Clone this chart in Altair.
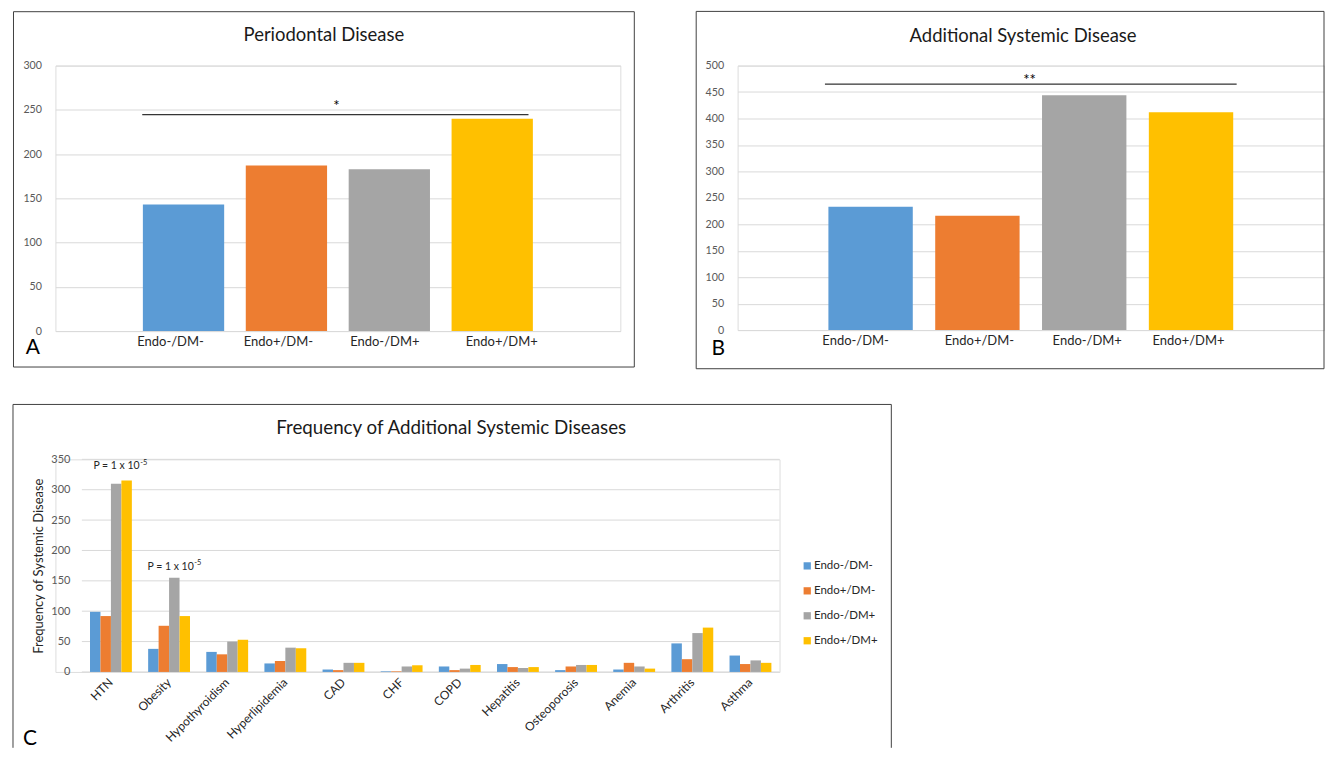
import altair as alt
import pandas as pd

# ---------------- data ----------------
groups = ["Endo-/DM-", "Endo+/DM-", "Endo-/DM+", "Endo+/DM+"]
colors = ["#5B9BD5", "#ED7D31", "#A5A5A5", "#FFC000"]

perio_values = [143, 187, 183, 240]
perio_sig_level = 244.5
perio_star_level = 254

systemic_values = [233, 216, 444, 412]
systemic_sig_level = 465
systemic_star_level = 472

diseases = ["HTN", "Obesity", "Hypothyroidism", "Hyperlipidemia", "CAD", "CHF",
            "COPD", "Hepatitis", "Osteoporosis", "Anemia", "Arthritis", "Asthma"]
endo_neg_dm_neg = [99, 38, 33, 14, 4, 1, 9, 13, 3, 4, 47, 27]
endo_pos_dm_neg = [92, 76, 29, 18, 3, 1, 3, 8, 9, 15, 21, 13]
endo_neg_dm_pos = [310, 155, 50, 40, 15, 9, 5.5, 6.5, 11.5, 9, 64, 19]
endo_pos_dm_pos = [315, 92, 53, 39, 15, 11, 11.5, 8, 11.5, 5.5, 73, 15]
c_ticks = [0, 50, 100, 150, 200, 250, 300, 350]

p_labels = ["HTN", "Obesity"]
p_levels = [338.5, 172.8]
p_text = "P = 1 x 10"
p_sup = "-5"

FONT = "Lato"
GRID = "#D9D9D9"
BOX = "#404040"
LBL = "#595959"
TXT = "#262626"

color_scale = alt.Scale(domain=groups, range=colors)


def dummy():
    return pd.DataFrame({"k": [0]})


def rule(x1, x2, y1, y2, opacity=1.0):
    return alt.Chart(dummy()).mark_rule(color=BOX, strokeWidth=1, opacity=opacity).encode(
        x=alt.value(x1), x2=alt.value(x2), y=alt.value(y1), y2=alt.value(y2))


def box_layers(x1, x2, y1, y2, top_pad):
    box = alt.Chart(dummy()).mark_rect(fill="transparent", stroke=BOX, strokeWidth=1).encode(
        x=alt.value(x1), x2=alt.value(x2), y=alt.value(y1), y2=alt.value(y2))
    pad = rule(0, 5, top_pad, top_pad, opacity=0)
    return [box, pad]


def text_layer(txt, x, y, size, color=TXT, align="center", baseline="alphabetic"):
    return alt.Chart(dummy()).mark_text(text=txt, fontSize=size, color=color, align=align,
                                        baseline=baseline, font=FONT).encode(
        x=alt.value(x), y=alt.value(y))


def label_shift(offsets):
    conds = [{"test": "datum.value === '%s'" % g, "value": o} for g, o in zip(groups, offsets)]
    return {"condition": conds, "value": 0}


def bar_panel(values, ymax, ystep, w, h, title, title_x, title_y, letter, letter_x, letter_y,
              sig_level, sig_x1, sig_x2, stars, star_x, star_level, box, top_pad, lab_off):
    df = pd.DataFrame({"group": groups, "value": values})
    x_enc = alt.X("group:N", sort=groups,
                  scale=alt.Scale(paddingInner=0.21, paddingOuter=0.85),
                  axis=alt.Axis(title=None, labelAngle=0, domain=False, ticks=False,
                                labelFontSize=13, labelColor=TXT, labelPadding=4, labelFont=FONT,
                                labelOffset=label_shift(lab_off)))
    y_enc = alt.Y("value:Q", scale=alt.Scale(domain=[0, ymax], nice=False),
                  axis=alt.Axis(title=None, values=list(range(0, ymax + 1, ystep)), domain=False,
                                ticks=False, gridColor=GRID, gridWidth=1, labelPadding=14,
                                labelFontSize=10.7, labelColor=LBL, labelFont=FONT))
    bars = alt.Chart(df).mark_bar().encode(
        x=x_enc, y=y_enc,
        color=alt.Color("group:N", scale=color_scale, legend=None))
    sig = alt.Chart(pd.DataFrame({"value": [sig_level]})).mark_rule(color="black", strokeWidth=1).encode(
        x=alt.value(sig_x1), x2=alt.value(sig_x2), y=y_enc)
    star = alt.Chart(pd.DataFrame({"value": [star_level]})).mark_text(
        text=stars, fontSize=15, color="black", baseline="middle", font=FONT).encode(
        x=alt.value(star_x), y=y_enc)
    layers = box_layers(*box, top_pad) + [bars, sig, star,
              text_layer(title, title_x, title_y, 18.5, color="#1a1a1a"),
              text_layer(letter, letter_x, letter_y, 21, color="black", baseline="middle")]
    return alt.layer(*layers).properties(width=w, height=h)


# Panel A: plot area 566 x 266
panel_a = bar_panel(perio_values, 300, 50, 566, 266, "Periodontal Disease", 269, -24.5,
                    "A", -22.5, 283, perio_sig_level, 87, 474, "*", 281.5, perio_star_level,
                    (-42, 580, -54, 302), -56.3, [-13, -8, -4.5, 9.5])

# Panel B: plot area 587.5 x 265
panel_b = bar_panel(systemic_values, 500, 50, 587.5, 265, "Additional Systemic Disease", 286, -23.6,
                    "B", -19.5, 284, systemic_sig_level, 87.5, 500, "**", 292.5, systemic_star_level,
                    (-41.5, 587.5, -54.3, 303.7), -54.3, [-15, 2, 3, -2.5])

# Panel C (view starts at the same x as panel A's view; bars use a shifted band range)
series = [endo_neg_dm_neg, endo_pos_dm_neg, endo_neg_dm_pos, endo_pos_dm_pos]
rows = []
for g, vals in zip(groups, series):
    for d, v in zip(diseases, vals):
        rows.append({"disease": d, "group": g, "value": v})
dfc = pd.DataFrame(rows)

SHIFT = 26.5
WC, HC = 725.5, 213
xc = alt.X("disease:N", sort=diseases,
           scale=alt.Scale(paddingInner=0.28, paddingOuter=0.14, range=[SHIFT, WC]),
           axis=alt.Axis(title=None, labelAngle=-45, labelAlign="right", labelBaseline="middle",
                         domain=False, ticks=False, labelFontSize=12, labelColor=TXT,
                         labelPadding=8, labelFont=FONT))
yc = alt.Y("value:Q", scale=alt.Scale(domain=[0, 350], nice=False),
           axis=alt.Axis(title="Frequency of Systemic Disease", values=c_ticks, grid=False,
                         offset=-SHIFT, domain=False, ticks=False, labelPadding=12,
                         labelFontSize=11, labelColor=LBL, labelFont=FONT,
                         titleFontSize=13, titleFontWeight="normal", titleColor=TXT,
                         titleFont=FONT, titlePadding=5))
grid_c = alt.Chart(pd.DataFrame({"value": c_ticks})).mark_rule(color=GRID, strokeWidth=1).encode(
    x=alt.value(SHIFT), x2=alt.value(WC), y=yc)
bars_c = alt.Chart(dfc).mark_bar().encode(
    x=xc, y=yc,
    xOffset=alt.XOffset("group:N", sort=groups, scale=alt.Scale(paddingInner=0, paddingOuter=0)),
    color=alt.Color("group:N", scale=color_scale,
                    legend=alt.Legend(title=None, orient="none", legendX=747.5, legendY=101,
                                      symbolType="square", symbolSize=53, symbolStrokeWidth=0,
                                      labelFontSize=11.5, labelColor=TXT, labelFont=FONT,
                                      rowPadding=12, labelOffset=1, padding=0)))

p_layers = []
dxs = [28.8, 24.7]
for lab, lev, dx in zip(p_labels, p_levels, dxs):
    pdf = pd.DataFrame({"disease": [lab], "value": [lev]})
    p_layers.append(alt.Chart(pdf).mark_text(text=p_text, fontSize=10.5, color=TXT, align="right",
                                             baseline="middle", dx=dx, font=FONT).encode(x=xc, y=yc))
    p_layers.append(alt.Chart(pdf).mark_text(text=p_sup, fontSize=7.5, color=TXT, align="left",
                                             baseline="middle", dx=dx + 0.5, dy=-3.5, font=FONT).encode(x=xc, y=yc))

C_BOTTOM = 289
c_frame = [rule(-42.5, -42.5, -55, C_BOTTOM), rule(-42.5, 837.5, -55, -55),
           rule(837.5, 837.5, -55, C_BOTTOM)]

panel_c = alt.layer(*(c_frame + [grid_c, bars_c] + p_layers +
                      [text_layer("Frequency of Additional Systemic Diseases", 396.5, -25, 18.8,
                                  color="#1a1a1a"),
                       text_layer("C", -25.5, 280.5, 21, color="black", baseline="middle")])
                    ).properties(width=WC, height=HC)

top_row = alt.hconcat(panel_a, panel_b, spacing=59.5)
chart = alt.vconcat(top_row, panel_c, spacing=33.5).resolve_scale(color="independent").resolve_legend(
    color="independent").properties(
    padding={"left": 3.5, "top": 0, "right": 0, "bottom": 0}
).configure_view(strokeWidth=0).configure(font=FONT)

chart.save("out.html", embed_options={"renderer": "svg", "actions": False})
